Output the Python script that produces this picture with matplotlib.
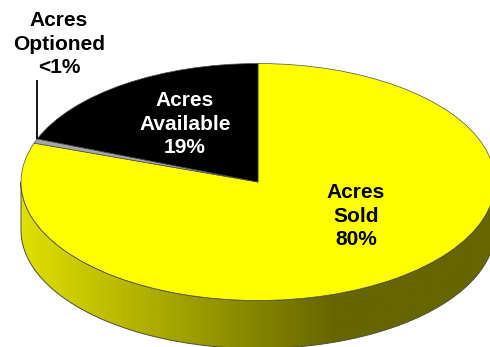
import numpy as np
import matplotlib
matplotlib.use("Agg")
import matplotlib.pyplot as plt
from matplotlib.colors import LinearSegmentedColormap
from matplotlib.patches import PathPatch
from matplotlib.path import Path

categories = ["Acres\nSold\n80%", "Acres\nOptioned\n<1%", "Acres\nAvailable\n19%"]
shares = [80, 0.6, 19]
colors = ["#ffff00", "#a6a6a6", "#000000"]

W, H = 490, 347
CX, CY, RX, RY = 258.0, 182.0, 237.0, 118.5
DEPTH = 48.0 / RY

plt.rcParams["font.family"] = ["Liberation Sans", "DejaVu Sans"]
fig = plt.figure(figsize=(W / 100, H / 100), dpi=100)
ax = fig.add_axes([0, 0, 1, 1])

# The unit circle of the pie is stretched into the tilted ellipse by the axis limits.
xlim = ((0 - CX) / RX, (W - CX) / RX)
ylim = ((CY - H) / RY, CY / RY)

wedges, _ = ax.pie(shares, colors=colors, startangle=90, counterclock=False, radius=1,
                   wedgeprops=dict(edgecolor="#4d4d4d", linewidth=0.5, zorder=3))

# Side wall of the disc with a horizontal shade running from left to right.
t = np.linspace(np.pi, 2 * np.pi, 300)
top = np.column_stack([np.cos(t), np.sin(t)])
bottom = np.column_stack([np.cos(t[::-1]), np.sin(t[::-1]) - DEPTH])
wall = Path(np.vstack([top, bottom, top[:1]]), closed=True)
wall_edge = PathPatch(wall, facecolor="none", edgecolor="#4d4d40", linewidth=0.7, zorder=2)
ax.add_patch(wall_edge)

shade = LinearSegmentedColormap.from_list(
    "wall", [(0.0, "#e0e000"), (0.66, "#666600"), (1.0, "#666600")])
image = ax.imshow(np.linspace(0, 1, 256)[None, :], cmap=shade, aspect="auto",
                  extent=(-1, 1, -1 - DEPTH, 0), zorder=1, interpolation="bilinear")
image.set_clip_path(PathPatch(wall, transform=ax.transData))

ax.set_xlim(xlim)
ax.set_ylim(ylim)
ax.set_aspect("auto")
ax.axis("off")

# Text and the leader line are placed in figure pixels measured from the top-left corner.
def px(x, y):
    return ((x - CX) / RX, (CY - y) / RY)

style = dict(ha="center", va="center", fontsize=15.0, fontweight="bold",
             linespacing=1.27, zorder=5)
ax.text(*px(356, 216), categories[0], color="black", **style)
ax.text(*px(59, 44), categories[1], color="black", **style)
ax.text(*px(185, 124), categories[2], color="white", **style)

leader_x, leader_y = zip(px(37, 80), px(37, 139))
ax.plot(leader_x, leader_y, color="black", linewidth=1.3, zorder=4, solid_capstyle="butt")

fig.savefig("out.png", dpi=100, facecolor="white")
